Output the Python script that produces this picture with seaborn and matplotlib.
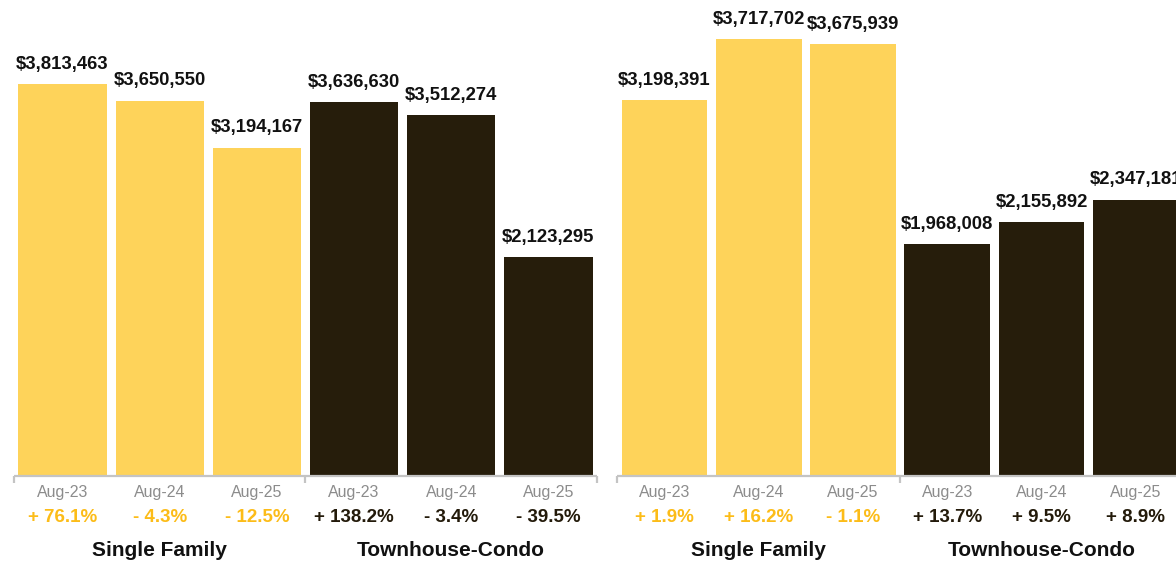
import matplotlib
matplotlib.use("Agg")
import matplotlib.pyplot as plt
import matplotlib.transforms as mtransforms
import seaborn as sns
import pandas as pd

# Median sale price, August of each year, by property type
periods = ["Aug-23", "Aug-24", "Aug-25"]
groups = ["Single Family", "Townhouse-Condo"]

left_single_family = [3813463, 3650550, 3194167]
left_townhouse = [3636630, 3512274, 2123295]
left_single_family_chg = [76.1, -4.3, -12.5]
left_townhouse_chg = [138.2, -3.4, -39.5]

right_single_family = [3198391, 3717702, 3675939]
right_townhouse = [1968008, 2155892, 2347181]
right_single_family_chg = [1.9, 16.2, -1.1]
right_townhouse_chg = [13.7, 9.5, 8.9]

BAR_COLORS = {"Single Family": "#FED35A", "Townhouse-Condo": "#261D0B"}
PCT_COLORS = {"Single Family": "#FCBC18", "Townhouse-Condo": "#231A0A"}
TICK_GRAY = "#8C8C8C"
BRACKET_GRAY = "#C4C4C4"

sns.set_theme(style="white")
plt.rcParams["font.family"] = ["Liberation Sans", "DejaVu Sans"]

W, H = 1176, 563
fig = plt.figure(figsize=(W / 100, H / 100), dpi=100)


def build_frame(sf, th, sf_chg, th_chg):
    rows = []
    for g, vals, chg in ((groups[0], sf, sf_chg), (groups[1], th, th_chg)):
        for p, v, c in zip(periods, vals, chg):
            rows.append({"slot": f"{g} {p}", "group": g, "period": p,
                         "value": v, "change": c})
    return pd.DataFrame(rows)


def fmt_change(c):
    sign = "+" if c >= 0 else "-"
    return f"{sign} {abs(c):.1f}%"


def draw_panel(rect, df, ymax, ax_h_px):
    ax = fig.add_axes(rect)
    sns.barplot(data=df, x="slot", y="value", hue="group", order=list(df["slot"]),
                palette=BAR_COLORS, dodge=False, width=0.91, saturation=1,
                linewidth=0, edgecolor="none", legend=False, ax=ax)
    ax.set_xlim(-0.5, len(df) - 0.5)
    ax.set_ylim(0, ymax)
    ax.set_xlabel("")
    ax.set_ylabel("")
    ax.set_xticks([])
    ax.set_yticks([])
    for s in ax.spines.values():
        s.set_visible(False)
    ax.patch.set_alpha(0)

    # value labels above the bars
    for i, v in enumerate(df["value"]):
        ax.annotate(f"${v:,.0f}", xy=(i, v), xytext=(0, 11), textcoords="offset points",
                    ha="center", va="baseline", fontsize=13.3, fontweight="bold",
                    color="#111111", annotation_clip=False)

    trans = mtransforms.blended_transform_factory(ax.transData, ax.transAxes)
    px = lambda d: -d / ax_h_px

    # bracket under each group
    ax.plot([-0.5, len(df) - 0.5], [px(1), px(1)], transform=trans, color=BRACKET_GRAY,
            lw=1.6, clip_on=False, solid_capstyle="butt")
    for xb in (-0.5, 2.5, 5.5):
        ax.plot([xb, xb], [px(1), px(8)], transform=trans, color=BRACKET_GRAY,
                lw=1.6, clip_on=False, solid_capstyle="butt")

    for i, row in df.reset_index(drop=True).iterrows():
        ax.text(i, px(18), row["period"], transform=trans, ha="center", va="center",
                fontsize=11.5, color=TICK_GRAY, clip_on=False)
        ax.text(i, px(42), fmt_change(row["change"]), transform=trans, ha="center",
                va="center", fontsize=13.5, fontweight="bold",
                color=PCT_COLORS[row["group"]], clip_on=False)

    for k, g in enumerate(groups):
        ax.text(3 * k + 1, px(75), g, transform=trans, ha="center", va="center",
                fontsize=15, fontweight="bold", color="#111111", clip_on=False)
    return ax


bottom_px = 475
ax_h_px = bottom_px
bottom = (H - bottom_px) / H
height = ax_h_px / H

df_left = build_frame(left_single_family, left_townhouse,
                      left_single_family_chg, left_townhouse_chg)
df_right = build_frame(right_single_family, right_townhouse,
                       right_single_family_chg, right_townhouse_chg)

draw_panel([14 / W, bottom, 583 / W, height], df_left, 4.633e6, ax_h_px)
draw_panel([617.4 / W, bottom, 565.5 / W, height], df_right, 4.050e6, ax_h_px)

fig.savefig("out.png", dpi=100, facecolor="white")
